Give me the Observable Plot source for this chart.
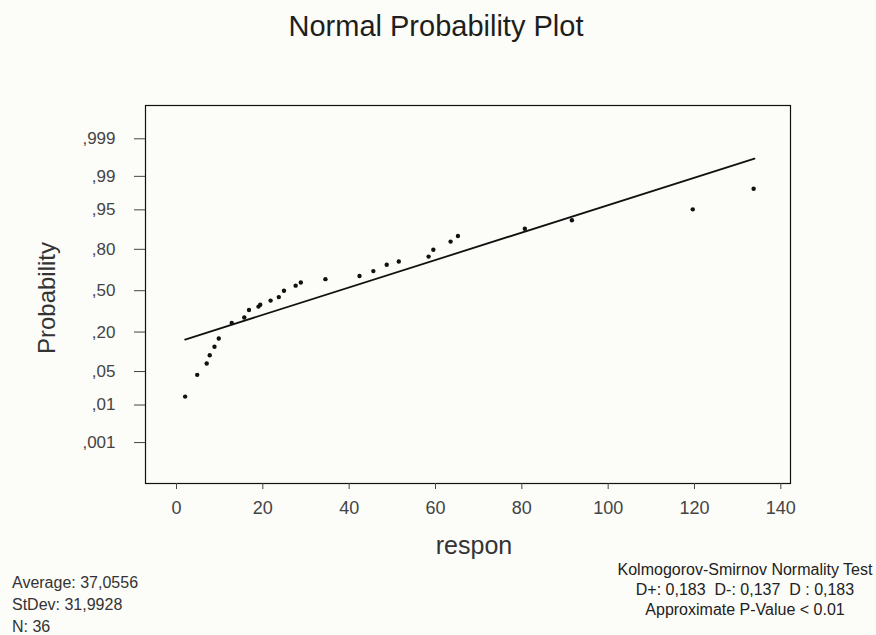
<!DOCTYPE html>
<html>
<head>
<meta charset="utf-8">
<script src="https://cdn.jsdelivr.net/npm/d3@7"></script>
<script src="https://cdn.jsdelivr.net/npm/@observablehq/plot@0.6"></script>
<style>
  body { margin: 0; background: #fcfcf9; }
  #wrap { position: relative; width: 876px; height: 635px; font-family: "Liberation Sans", Arial, sans-serif; }
  #wrap > svg { position: absolute; left: 0; top: 0; }
</style>
</head>
<body>
<div id="wrap"></div>
<script>
// ---- data ----
const respon = [2.0, 4.8, 7.0, 7.7, 8.8, 9.8, 12.8, 15.7, 16.8, 19.0, 19.4, 21.8, 23.7, 24.9, 27.6, 28.8, 34.5, 42.4, 45.6, 48.7, 51.5, 58.4, 59.5, 63.5, 65.2, 80.7, 91.6, 119.6, 133.7];
const probability = [0.0156, 0.0434, 0.0693, 0.0945, 0.127, 0.165, 0.256, 0.293, 0.347, 0.373, 0.388, 0.420, 0.448, 0.500, 0.541, 0.566, 0.593, 0.618, 0.655, 0.701, 0.724, 0.756, 0.798, 0.841, 0.867, 0.896, 0.924, 0.951, 0.981];
const fitRespon = [2.0, 133.9];
const fitProbability = [0.160, 0.9964];
const xTicks = [0, 20, 40, 60, 80, 100, 120, 140];
const yTickValues = [0.001, 0.01, 0.05, 0.2, 0.5, 0.8, 0.95, 0.99, 0.999];
const yTickLabels = [",001", ",01", ",05", ",20", ",50", ",80", ",95", ",99", ",999"];
const titleText = "Normal Probability Plot";
const xLabel = "respon";
const yLabel = "Probability";
const leftStats = ["Average: 37,0556", "StDev: 31,9928", "N: 36"];
const rightStats = ["Kolmogorov-Smirnov Normality Test", "D+: 0,183  D-: 0,137  D : 0,183", "Approximate P-Value < 0.01"];

// inverse standard normal CDF (Acklam) – the probability axis scale
function probit(p) {
  const a = [-3.969683028665376e+01, 2.209460984245205e+02, -2.759285104469687e+02, 1.383577518672690e+02, -3.066479806614716e+01, 2.506628277459239e+00];
  const b = [-5.447609879822406e+01, 1.615858368580409e+02, -1.556989798598866e+02, 6.680131188771972e+01, -1.328068155288572e+01];
  const c = [-7.784894002430293e-03, -3.223964580411365e-01, -2.400758277161838e+00, -2.549732539343734e+00, 4.374664141464968e+00, 2.938163982698783e+00];
  const d = [7.784695709041462e-03, 3.224671290700398e-01, 2.445134137142996e+00, 3.754408661907416e+00];
  const pl = 0.02425, ph = 1 - pl;
  if (p < pl) {
    const q = Math.sqrt(-2 * Math.log(p));
    return (((((c[0]*q+c[1])*q+c[2])*q+c[3])*q+c[4])*q+c[5]) / ((((d[0]*q+d[1])*q+d[2])*q+d[3])*q+1);
  }
  if (p <= ph) {
    const q = p - 0.5, r = q * q;
    return (((((a[0]*r+a[1])*r+a[2])*r+a[3])*r+a[4])*r+a[5])*q / (((((b[0]*r+b[1])*r+b[2])*r+b[3])*r+b[4])*r+1);
  }
  const q = Math.sqrt(-2 * Math.log(1 - p));
  return -(((((c[0]*q+c[1])*q+c[2])*q+c[3])*q+c[4])*q+c[5]) / ((((d[0]*q+d[1])*q+d[2])*q+d[3])*q+1);
}

const points = respon.map((r, i) => ({respon: r, z: probit(probability[i])}));
const fitLine = fitRespon.map((r, i) => ({respon: r, z: probit(fitProbability[i])}));
const zTicks = yTickValues.map(probit);
const labelMap = new Map(zTicks.map((z, i) => [z, yTickLabels[i]]));

const FONT = '"Liberation Sans", Arial, sans-serif';

const chart = Plot.plot({
  width: 876,
  height: 635,
  marginLeft: 145,
  marginRight: 86,
  marginTop: 105,
  marginBottom: 152,
  style: {background: "transparent", fontFamily: FONT, color: "#444"},
  x: {domain: [-7.18, 142.24]},
  y: {domain: [-3.923, 3.768]},
  marks: [
    Plot.frame({stroke: "#111", strokeWidth: 1.2}),
    Plot.axisX({ticks: xTicks, tickSize: 6, tickPadding: 12, fontSize: 18, label: null, tickFormat: d => String(d)}),
    Plot.axisY({ticks: zTicks, tickSize: 11, tickPadding: 19, fontSize: 17, label: null, tickFormat: z => labelMap.get(z)}),
    Plot.line(fitLine, {x: "respon", y: "z", stroke: "#111", strokeWidth: 1.8}),
    Plot.dot(points, {x: "respon", y: "z", r: 2.2, fill: "#111", stroke: "none"})
  ]
});
document.getElementById("wrap").appendChild(chart);

// overlay texts: title, axis labels, statistics
const ns = "http://www.w3.org/2000/svg";
const ov = document.createElementNS(ns, "svg");
ov.setAttribute("width", 876);
ov.setAttribute("height", 635);
ov.style.fontFamily = FONT;
function addText(str, x, y, size, anchor, fill, rotate) {
  const t = document.createElementNS(ns, "text");
  t.textContent = str;
  t.setAttribute("x", x);
  t.setAttribute("y", y);
  t.setAttribute("font-size", size);
  t.setAttribute("text-anchor", anchor);
  t.setAttribute("fill", fill);
  t.setAttribute("xml:space", "preserve");
  t.style.whiteSpace = "pre";
  if (rotate) t.setAttribute("transform", `rotate(${rotate} ${x} ${y})`);
  ov.appendChild(t);
}
addText(titleText, 436, 36, 29, "middle", "#1e1e1e");
addText(xLabel, 474, 554, 25, "middle", "#333");
addText(yLabel, 55, 298, 24, "middle", "#333", -90);
leftStats.forEach((s, i) => addText(s, 12, 588 + i * 22, 16, "start", "#333"));
rightStats.forEach((s, i) => addText(s, 745, 575 + i * 20, 16, "middle", "#222"));
document.getElementById("wrap").appendChild(ov);
</script>
</body>
</html>
